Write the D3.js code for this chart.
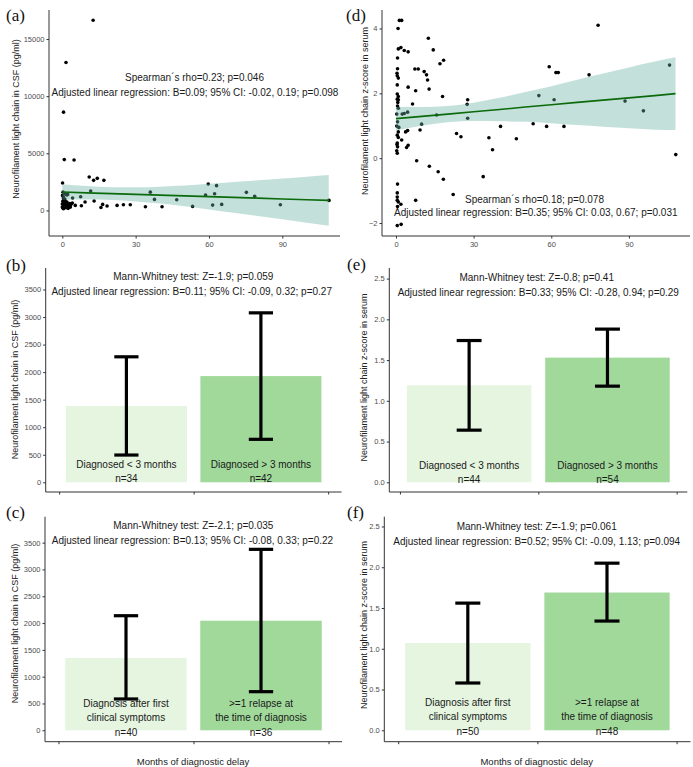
<!DOCTYPE html>
<html>
<head>
<meta charset="utf-8">
<script src="https://cdn.jsdelivr.net/npm/d3@7"></script>
<style>
  html, body { margin: 0; padding: 0; background: #fff; }
  svg { display: block; }
</style>
</head>
<body>
<script>
// ---------------- DATA ----------------
// Panel (a): months of diagnostic delay vs CSF NfL (pg/ml)
const csfMonths = [12.6, 1.5, 0.5, 0.8, 4.8, 11.0, 12.8, 14.3, 17.0, 0.1, 11.6, 36.0, 37.7, 4.2, 7.5, 9.3, 13.0, 7.8, 5.3, 3.5,
  16.5, 15.8, 18.3, 22.4, 25.0, 27.8, 34.0, 0.1, 1.2, 2.2, 0.5, 1.2, 0.3, 0.8, 1.6, 0.5, 2.6, 3.3, 4.1, 1.9,
  0.0, 1.1, 40.8, 46.8, 53.3, 59.7, 63.1, 58.6, 62.3, 61.5, 65.2, 75.3, 78.7, 89.2, 109.1,
  0.2, 0.4, 0.6, 0.9, 1.4, 2.0, 0.3, 0.7, 1.0, 3.0, 0.2, 2.4, 1.8, 0.0, 0.6];
const csfValues = [16640, 12950, 8600, 4445, 4410, 2920, 2630, 2805, 2630, 2395, 1690, 1600, 965, 1080, 1200, 730, 820, 410, 440, 525,
  525, 260, 380, 440, 500, 500, 320, 1315, 1460, 1400, 1025, 820, 585, 440, 235, 150, 350, 290, 640, 730,
  290, 350, 320, 935, 350, 2305, 2165, 1340, 1460, 465, 525, 1580, 1230, 500, 877,
  800, 1180, 400, 250, 600, 500, 1600, 700, 1000, 600, 200, 180, 1350, 560, 900];
const csfFitMonths = [0, 10, 20, 30, 40, 50, 60, 70, 80, 90, 100, 109];
const csfFit   = [1605, 1538, 1471, 1405, 1338, 1271, 1204, 1137, 1071, 1004, 937, 877];
const csfLower = [925, 948, 911, 785, 598, 371, 84, -203, -489, -776, -1073, -1343];
const csfUpper = [2285, 2128, 2031, 2025, 2078, 2171, 2324, 2477, 2631, 2784, 2947, 3097];

// Panel (d): months of diagnostic delay vs serum NfL z-score
const serumMonths = [1.3, 2.2, 0.8, 12.5, 0.9, 1.9, 3.2, 4.7, 14.4, 0.6, 18.4, 17.0, 0.6, 7.3, 8.6, 10.9, 11.8, 0.5, 0.9, 12.2,
  0.5, 4.7, 7.6, 12.8, 0.5, 0.9, 0.5, 0.9, 18.0, 6.4, 0.6, 0.9, 2.4, 3.2, 4.5, 0.3, 15.7, 27.7, 27.5, 27.7,
  0.6, 9.9, 9.3, 0.3, 0.9, 3.7, 4.5, 0.5, 0.9, 2.2, 23.4, 25.1, 0.5, 0.6, 0.3, 0.5, 4.7, 4.1, 8.0, 12.9,
  16.3, 18.3, 0.6, 22.1, 0.5, 0.5, 0.5, 0.9, 1.9, 0.6, 7.6, 0.5, 2.0,
  78.1, 59.2, 61.8, 62.7, 74.6, 105.7, 55.2, 61.1, 88.5, 95.6, 40.4, 53.0, 58.2, 64.9, 35.9, 46.5, 37.3, 108.1, 33.7,
  0.4, 0.7, 1.1, 0.4];
const serumValues = [4.25, 4.25, 4.0, 3.7, 3.37, 3.41, 3.32, 3.28, 3.34, 3.09, 3.02, 2.91, 2.76, 2.75, 2.75, 2.67, 2.57, 2.54, 2.47, 2.41,
  2.26, 2.19, 2.08, 2.13, 1.98, 1.90, 1.82, 1.80, 1.90, 1.67, 1.61, 1.54, 1.36, 1.38, 1.42, 1.36, 1.33, 1.80, 1.66, 1.23,
  1.12, 1.05, 0.87, 0.99, 0.81, 0.81, 0.85, 0.71, 0.64, 0.56, 0.76, 0.66, 0.47, 0.35, 0.23, 0.15, 0.40, 0.33, -0.08, -0.25,
  -0.42, -0.65, -0.80, -1.12, -1.07, -1.20, -1.30, -1.35, -1.42, -1.49, -1.30, -2.08, -2.04,
  4.10, 2.82, 2.64, 2.64, 2.57, 2.87, 1.93, 1.80, 1.76, 1.46, 0.98, 1.06, 0.98, 0.98, 0.63, 0.60, 0.26, 0.11, -0.57,
  2.62, 1.72, 0.95, 0.42];
const serumFitMonths = [0, 10, 20, 30, 40, 50, 60, 70, 80, 90, 100, 108];
const serumFit   = [1.22, 1.29, 1.36, 1.43, 1.50, 1.58, 1.65, 1.72, 1.79, 1.86, 1.93, 1.99];
const serumLower = [0.85, 1.00, 1.11, 1.15, 1.14, 1.12, 1.08, 1.02, 0.97, 0.92, 0.88, 0.87];
const serumUpper = [1.59, 1.58, 1.61, 1.71, 1.86, 2.04, 2.22, 2.42, 2.61, 2.80, 2.98, 3.11];

// Bar panels
const delayGroups   = ["Diagnosed < 3 months", "Diagnosed > 3 months"];
const relapseGroups = ["Diagnosis after first\nclinical symptoms", ">=1 relapse at\nthe time of diagnosis"];

const csfDelayMean = [1384, 1928],  csfDelayLow = [495, 780],  csfDelayHigh = [2278, 3076], csfDelayN = [34, 42];
const serDelayMean = [1.19, 1.53],  serDelayLow = [0.64, 1.18], serDelayHigh = [1.74, 1.88], serDelayN = [44, 54];
const csfRelMean   = [1348, 2044],  csfRelLow   = [584, 720],  csfRelHigh   = [2137, 3375], csfRelN   = [40, 36];
const serRelMean   = [1.07, 1.69],  serRelLow   = [0.58, 1.34], serRelHigh   = [1.56, 2.05], serRelN   = [50, 48];

const csfTicks = [0, 5000, 10000, 15000];
const serumTicks = [-2, 0, 2, 4];
const monthTicks = [0, 30, 60, 90];
const csfBarTicks = [0, 500, 1000, 1500, 2000, 2500, 3000, 3500];
const serBarTicks = [0.0, 0.5, 1.0, 1.5, 2.0, 2.5];

// ---------------- DRAWING ----------------
const W = 693, H = 767;
const svg = d3.select("body").append("svg").attr("width", W).attr("height", H)
  .style("font-family", "'Liberation Sans', Arial, sans-serif");
svg.append("rect").attr("width", W).attr("height", H).attr("fill", "#fff");

const TEXT = "#1a1a1a", TICKTXT = "#4d4d4d", AXIS = "#333";

function drawAxes(x, y, xt, yt, xfmt, yfmt, showXLabels) {
  const [x0, x1] = x.range(), [y0, y1] = y.range();
  const g = svg.append("g");
  // y axis
  const ya = g.append("g").attr("transform", `translate(${x0},0)`)
    .call(d3.axisLeft(y).tickValues(yt).tickFormat(yfmt).tickSize(2.5).tickPadding(2));
  ya.select(".domain").remove();
  ya.selectAll("line").attr("stroke", AXIS);
  ya.selectAll("text").attr("fill", TICKTXT).style("font-size", "7.5px").style("font-family", "'Liberation Sans', Arial, sans-serif");
  // x axis
  const xa = g.append("g").attr("transform", `translate(0,${y0})`)
    .call(d3.axisBottom(x).tickValues(xt).tickFormat(showXLabels ? xfmt : () => "").tickSize(2.5).tickPadding(3));
  xa.select(".domain").remove();
  xa.selectAll("line").attr("stroke", AXIS);
  xa.selectAll("text").attr("fill", TICKTXT).style("font-size", "7.5px").style("font-family", "'Liberation Sans', Arial, sans-serif");
  // axis lines
  g.append("line").attr("x1", x0).attr("x2", x0).attr("y1", y1).attr("y2", y0).attr("stroke", AXIS).attr("stroke-width", 1);
  g.append("line").attr("x1", x0).attr("x2", x1).attr("y1", y0).attr("y2", y0).attr("stroke", AXIS).attr("stroke-width", 1);
}

function label(txt, x, y) {
  svg.append("text").attr("x", x).attr("y", y).attr("dominant-baseline", "central")
    .style("font-family", "'Liberation Serif', 'Times New Roman', serif").style("font-size", "17px")
    .attr("fill", "#111").text(txt);
}
function centerText(txt, x, y, size) {
  svg.append("text").attr("x", x).attr("y", y).attr("text-anchor", "middle").attr("dominant-baseline", "central")
    .style("font-size", (size || 10) + "px").attr("fill", TEXT).text(txt);
}
function yTitle(txt, x, y) {
  svg.append("text").attr("transform", `translate(${x},${y}) rotate(-90)`).attr("text-anchor", "middle")
    .attr("dominant-baseline", "central").style("font-size", "9px").attr("fill", "#222").text(txt);
}

function scatterPanel(cfg) {
  const x = d3.scaleLinear().domain(cfg.xDomain).range(cfg.xRange);
  const y = d3.scaleLinear().domain(cfg.yDomain).range(cfg.yRange);
  drawAxes(x, y, monthTicks, cfg.yTicks, d3.format("d"), d3.format("d"), true);
  svg.append("g").selectAll("circle").data(cfg.mx.map((m, i) => [m, cfg.my[i]])).join("circle")
    .attr("cx", d => x(d[0])).attr("cy", d => y(d[1])).attr("r", 1.8).attr("fill", "#000");
  const band = cfg.fx.map((m, i) => ({ m, lo: cfg.lo[i], hi: cfg.hi[i], f: cfg.fit[i] }));
  svg.append("path").datum(band)
    .attr("d", d3.area().x(d => x(d.m)).y0(d => y(d.lo)).y1(d => y(d.hi)).curve(d3.curveMonotoneX))
    .attr("fill", "#69b3a2").attr("fill-opacity", 0.4);
  svg.append("path").datum(band)
    .attr("d", d3.line().x(d => x(d.m)).y(d => y(d.f)))
    .attr("fill", "none").attr("stroke", "#0b6a0b").attr("stroke-width", 1.6);
}

function barPanel(cfg) {
  const x = d3.scaleLinear().domain(cfg.xDomain).range(cfg.xRange);
  const y = d3.scaleLinear().domain(cfg.yDomain).range(cfg.yRange);
  drawAxes(x, y, [0.5, 1.5, 2.5], cfg.yTicks, null, cfg.yFmt, false);
  const colors = ["#e5f5e0", "#a1d99b"];
  const data = cfg.mean.map((v, i) => ({ pos: i + 1, v, lo: cfg.lo[i], hi: cfg.hi[i], n: cfg.n[i], name: cfg.names[i], c: colors[i] }));
  const bw = 0.9, cw = 0.18;
  svg.append("g").selectAll("rect").data(data).join("rect")
    .attr("x", d => x(d.pos - bw / 2)).attr("width", d => x(d.pos + bw / 2) - x(d.pos - bw / 2))
    .attr("y", d => y(d.v)).attr("height", d => y(0) - y(d.v)).attr("fill", d => d.c);
  const eb = svg.append("g").attr("stroke", "#000").attr("stroke-width", 3.2).attr("fill", "none");
  data.forEach(d => {
    eb.append("line").attr("x1", x(d.pos)).attr("x2", x(d.pos)).attr("y1", y(d.lo)).attr("y2", y(d.hi));
    eb.append("line").attr("x1", x(d.pos - cw / 2)).attr("x2", x(d.pos + cw / 2)).attr("y1", y(d.lo)).attr("y2", y(d.lo));
    eb.append("line").attr("x1", x(d.pos - cw / 2)).attr("x2", x(d.pos + cw / 2)).attr("y1", y(d.hi)).attr("y2", y(d.hi));
  });
  data.forEach(d => {
    const lines = d.name.split("\n");
    const y0 = y(0);
    const nY = y0 + cfg.nOff;
    lines.forEach((t, j) => {
      centerText(t, x(d.pos), nY - (lines.length - j) * 14.3, 10);
    });
    centerText("n=" + d.n, x(d.pos), nY, 10);
  });
}

// Panel (a)
scatterPanel({ xDomain: [-5.45, 113.6], xRange: [49, 340], yDomain: [-2240, 17540], yRange: [236, 10],
  yTicks: csfTicks, mx: csfMonths, my: csfValues, fx: csfFitMonths, fit: csfFit, lo: csfLower, hi: csfUpper });
// Panel (d)
scatterPanel({ xDomain: [-5.4, 113.6], xRange: [382, 690], yDomain: [-2.4, 4.57], yRange: [236, 10],
  yTicks: serumTicks, mx: serumMonths, my: serumValues, fx: serumFitMonths, fit: serumFit, lo: serumLower, hi: serumUpper });

// Panel (b)
barPanel({ xDomain: [0.4, 2.6], xRange: [45.7, 341.6], yDomain: [-176, 3890], yRange: [492, 268],
  yTicks: csfBarTicks, yFmt: d3.format("d"), mean: csfDelayMean, lo: csfDelayLow, hi: csfDelayHigh, n: csfDelayN, names: delayGroups, nOff: -4 });
// Panel (e)
barPanel({ xDomain: [0.423, 2.577], xRange: [389.3, 687.3], yDomain: [-0.119, 2.63], yRange: [492, 268],
  yTicks: serBarTicks, yFmt: d3.format(".1f"), mean: serDelayMean, lo: serDelayLow, hi: serDelayHigh, n: serDelayN, names: delayGroups, nOff: -3 });
// Panel (c)
barPanel({ xDomain: [0.4, 2.6], xRange: [45, 342], yDomain: [-213, 3984], yRange: [741.7, 516.7],
  yTicks: csfBarTicks, yFmt: d3.format("d"), mean: csfRelMean, lo: csfRelLow, hi: csfRelHigh, n: csfRelN, names: relapseGroups, nOff: 2 });
// Panel (f)
barPanel({ xDomain: [0.4, 2.6], xRange: [384.3, 690.5], yDomain: [-0.14, 2.62], yRange: [741.7, 516.7],
  yTicks: serBarTicks, yFmt: d3.format(".1f"), mean: serRelMean, lo: serRelLow, hi: serRelHigh, n: serRelN, names: relapseGroups, nOff: 1 });

// Annotations
centerText("Spearman´s rho=0.23; p=0.046", 194.5, 77.7);
centerText("Adjusted linear regression: B=0.09; 95% CI: -0.02, 0.19; p=0.098", 195, 92.3);
centerText("Spearman´s rho=0.18; p=0.078", 534.5, 199);
centerText("Adjusted linear regression: B=0.35; 95% CI: 0.03, 0.67; p=0.031", 535.8, 212.7);
centerText("Mann-Whitney test: Z=-1.9; p=0.059", 193.3, 276.7);
centerText("Adjusted linear regression: B=0.11; 95% CI: -0.09, 0.32; p=0.27", 191.7, 291);
centerText("Mann-Whitney test: Z=-0.8; p=0.41", 536.7, 277.3);
centerText("Adjusted linear regression: B=0.33; 95% CI: -0.28, 0.94; p=0.29", 538.3, 292.3);
centerText("Mann-Whitney test: Z=-2.1; p=0.035", 193.3, 525.7);
centerText("Adjusted linear regression: B=0.13; 95% CI: -0.08, 0.33; p=0.22", 192.5, 540.7);
centerText("Mann-Whitney test: Z=-1.9; p=0.061", 536.7, 526.7);
centerText("Adjusted linear regression: B=0.52; 95% CI: -0.09, 1.13; p=0.094", 536.7, 541.7);

// Axis titles
yTitle("Neurofilament light chain in CSF (pg/ml)", 16, 119);
yTitle("Neurofilament light chain z-score in serum", 365, 111);
yTitle("Neurofilament light chain in CSF (pg/ml)", 15, 379.5);
yTitle("Neurofilament light chain z-score in serum", 364, 377.5);
yTitle("Neurofilament light chain in CSF (pg/ml)", 15, 623.5);
yTitle("Neurofilament light chain z-score in serum", 364, 625);
centerText("Months of diagnostic delay", 193, 761.5, 9.5);
centerText("Months of diagnostic delay", 536.7, 761.5, 9.5);

// Panel labels
label("(a)", 6, 15);
label("(d)", 346, 15);
label("(b)", 6, 265);
label("(e)", 347, 264);
label("(c)", 6, 512);
label("(f)", 347, 512);
</script>
</body>
</html>
